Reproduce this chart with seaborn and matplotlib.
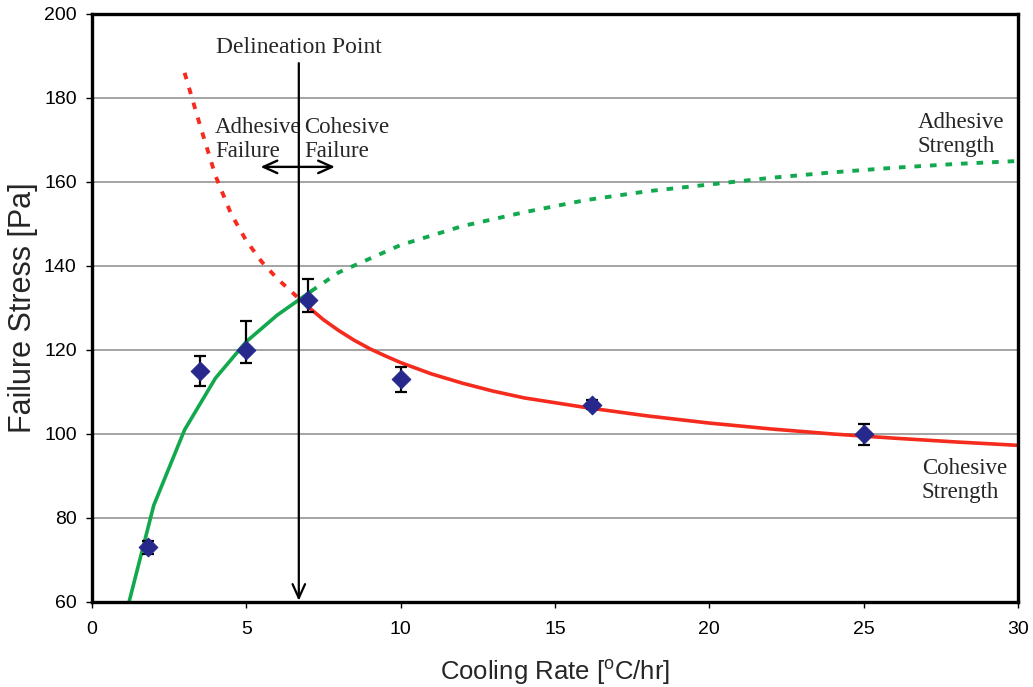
import numpy as np
import pandas as pd
import matplotlib
matplotlib.use("Agg")
import matplotlib.pyplot as plt
import seaborn as sns

# ---- data ----
meas_x = [1.8, 3.5, 5.0, 7.0, 10.0, 16.2, 25.0]
meas_y = [73.0, 115.0, 120.0, 132.0, 113.0, 107.0, 100.0]
err_lo = [1.5, 3.5, 3.0, 3.0, 3.0, 1.0, 2.5]
err_hi = [1.5, 3.5, 7.0, 5.0, 3.0, 1.0, 2.5]

adh_solid_x = [1.2, 2.0, 3.0, 4.0, 5.0, 6.0, 7.1]
adh_solid_y = [60.0, 83.0, 101.0, 113.3, 122.0, 128.3, 134.0]
adh_dot_x = [7.1, 8.0, 10.0, 12.0, 14.0, 16.0, 18.0, 20.0, 22.0, 24.0, 26.0, 28.0, 30.0]
adh_dot_y = [134.0, 138.5, 145.0, 149.5, 152.8, 155.7, 157.8, 159.4, 161.0, 162.3, 163.4, 164.3, 165.0]

coh_dot_x = [3.0, 3.5, 4.0, 4.5, 5.0, 5.5, 6.0, 6.4, 6.8]
coh_dot_y = [186.0, 173.5, 161.5, 152.5, 146.0, 141.0, 137.0, 134.3, 131.6]
coh_solid_x = [7.0, 7.5, 8.0, 8.5, 9.0, 9.5, 10.0, 11.0, 12.0, 13.0, 14.0, 16.0, 18.0, 20.0,
               22.0, 24.0, 26.0, 28.0, 30.0]
coh_solid_y = [130.3, 127.2, 124.6, 122.3, 120.3, 118.6, 117.0, 114.3, 112.1, 110.2, 108.6,
               106.3, 104.3, 102.6, 101.2, 100.0, 99.0, 98.1, 97.3]

delin_x = 6.7
x_ticks = [0, 5, 10, 15, 20, 25, 30]
y_ticks = [60, 80, 100, 120, 140, 160, 180, 200]

GREEN = "#12A84E"
RED = "#F52B1E"
NAVY = "#26288C"

sns.set_style("ticks")
plt.rcParams['font.family'] = ['Liberation Sans', 'DejaVu Sans']
plt.rcParams['mathtext.default'] = 'regular'

fig = plt.figure(figsize=(10.33, 6.87), dpi=100)
ax = fig.add_axes([92/1033, 85/687, 926/1033, 588/687])

for yv in y_ticks[1:-1]:
    ax.axhline(yv, color="#8a8a8a", lw=1.1, zorder=0)

dot_style = (0, (1.7, 2.3))
sns.lineplot(x=adh_solid_x, y=adh_solid_y, ax=ax, color=GREEN, lw=2.6, sort=False, estimator=None)
sns.lineplot(x=adh_dot_x, y=adh_dot_y, ax=ax, color=GREEN, lw=2.8, sort=False, estimator=None, linestyle=dot_style)
sns.lineplot(x=coh_dot_x, y=coh_dot_y, ax=ax, color=RED, lw=2.8, sort=False, estimator=None, linestyle=dot_style)
sns.lineplot(x=coh_solid_x, y=coh_solid_y, ax=ax, color=RED, lw=2.6, sort=False, estimator=None)

ax.errorbar(meas_x, meas_y, yerr=[err_lo, err_hi], fmt='none', ecolor='black', elinewidth=1.6,
            capsize=4.5, capthick=1.6, zorder=4)
sns.scatterplot(x=meas_x, y=meas_y, ax=ax, marker='D', color=NAVY, s=90, edgecolor=NAVY, zorder=5)

# delineation arrow
ax.annotate("", xy=(delin_x, 60.3), xytext=(delin_x, 188.3),
            arrowprops=dict(arrowstyle="->,head_length=1.0,head_width=0.45", color="black", lw=1.6,
                            shrinkA=0, shrinkB=0), zorder=6)
ax.annotate("", xy=(5.46, 163.6), xytext=(delin_x, 163.6),
            arrowprops=dict(arrowstyle="->,head_length=1.0,head_width=0.45", color="black", lw=1.7,
                            shrinkA=0, shrinkB=0))
ax.annotate("", xy=(7.87, 163.6), xytext=(delin_x, 163.6),
            arrowprops=dict(arrowstyle="->,head_length=1.0,head_width=0.45", color="black", lw=1.7,
                            shrinkA=0, shrinkB=0))

serif = ['Liberation Serif', 'DejaVu Serif']
fs = 16.5
ax.text(delin_x, 190.8, "Delineation Point", family=serif, fontsize=17, ha='center', va='baseline')
ax.text(3.98, 165.9, "Adhesive\nFailure", family=serif, fontsize=fs, ha='left', va='baseline', linespacing=1.2)
ax.text(6.87, 165.9, "Cohesive\nFailure", family=serif, fontsize=fs, ha='left', va='baseline', linespacing=1.2)
ax.text(26.76, 167.2, "Adhesive\nStrength", family=serif, fontsize=fs, ha='left', va='baseline', linespacing=1.2)
ax.text(26.88, 84.7, "Cohesive\nStrength", family=serif, fontsize=fs, ha='left', va='baseline', linespacing=1.2)

ax.set_xlim(0, 30)
ax.set_ylim(60, 200)
ax.set_xticks(x_ticks)
ax.set_yticks(y_ticks)
ax.tick_params(axis='both', direction='out', length=4, width=1, labelsize=14, colors='black')
ax.tick_params(axis='x', pad=10)
ax.tick_params(axis='y', pad=7)
for sp in ax.spines.values():
    sp.set_visible(True)
    sp.set_linewidth(2.4)
    sp.set_color('black')

ax.set_xlabel("Cooling Rate [$^{o}$C/hr]", fontsize=18.5, labelpad=14)
ax.set_ylabel("Failure Stress [Pa]", fontsize=22, labelpad=4)

fig.savefig("out.png", dpi=100, facecolor='white')
